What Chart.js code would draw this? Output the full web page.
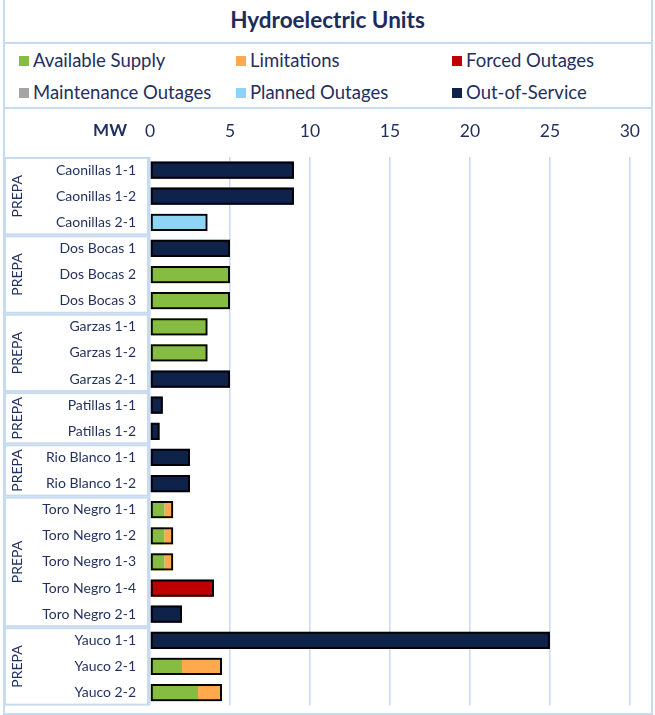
<!DOCTYPE html>
<html>
<head>
<meta charset="utf-8">
<script src="https://cdn.jsdelivr.net/npm/chart.js@4.4.1/dist/chart.umd.min.js"></script>
<style>
  body { margin: 0; background: #fff; font-family: Lato, "Open Sans", sans-serif; color: #1f2f5e; }
  #wrap { position: relative; width: 655px; height: 715px; overflow: hidden; }
  #frame { position: absolute; left: 3px; top: -2px; width: 646px; height: 713px; border: 2px solid #c8daf0; }
  .hline { position: absolute; left: 3px; width: 650px; height: 2px; background: #c8daf0; }
  #title { position: absolute; left: 0; top: 0; width: 655px; height: 40px; line-height: 40px;
           text-align: center; font-weight: bold; font-size: 22.5px; color: #1c2c5b; }
  .leg { position: absolute; font-size: 18.5px; line-height: 20px; white-space: nowrap; }
  .leg i { display: inline-block; width: 10px; height: 10px; margin-right: 4px; vertical-align: 1px; }
  #box { position: absolute; left: 0; top: 108px; width: 655px; height: 620px; }
</style>
</head>
<body>
<div id="wrap">
  <div id="frame"></div>
  <div id="title">Hydroelectric Units</div>
  <div class="hline" style="top:42px"></div>
  <div id="legend"></div>
  <div class="hline" style="top:107px"></div>
  <div id="box"><canvas id="hydroChart" width="655" height="620"></canvas></div>
</div>
<script>
var units = ["Caonillas 1-1", "Caonillas 1-2", "Caonillas 2-1",
  "Dos Bocas 1", "Dos Bocas 2", "Dos Bocas 3",
  "Garzas 1-1", "Garzas 1-2", "Garzas 2-1",
  "Patillas 1-1", "Patillas 1-2",
  "Rio Blanco 1-1", "Rio Blanco 1-2",
  "Toro Negro 1-1", "Toro Negro 1-2", "Toro Negro 1-3", "Toro Negro 1-4", "Toro Negro 2-1",
  "Yauco 1-1", "Yauco 2-1", "Yauco 2-2"];

var groupNames = ["PREPA", "PREPA", "PREPA", "PREPA", "PREPA", "PREPA", "PREPA"];
var groupSizes = [3, 3, 3, 2, 2, 5, 3];

var available    = [0, 0, 0,   0, 5, 5,   3.6, 3.6, 0,   0, 0,     0, 0,     0.9, 0.9, 0.9, 0, 0,   0, 2, 3];
var limitations  = [0, 0, 0,   0, 0, 0,   0, 0, 0,       0, 0,     0, 0,     0.55, 0.55, 0.55, 0, 0, 0, 2.5, 1.5];
var forced       = [0, 0, 0,   0, 0, 0,   0, 0, 0,       0, 0,     0, 0,     0, 0, 0, 4, 0,     0, 0, 0];
var maintenance  = [0, 0, 0,   0, 0, 0,   0, 0, 0,       0, 0,     0, 0,     0, 0, 0, 0, 0,     0, 0, 0];
var planned      = [0, 0, 3.6, 0, 0, 0,   0, 0, 0,       0, 0,     0, 0,     0, 0, 0, 0, 0,     0, 0, 0];
var outOfService = [9, 9, 0,   5, 0, 0,   0, 0, 5,       0.8, 0.6, 2.5, 2.5, 0, 0, 0, 0, 2,     25, 0, 0];

var xTicks = [0, 5, 10, 15, 20, 25, 30];

var seriesNames = ["Available Supply", "Limitations", "Forced Outages",
  "Maintenance Outages", "Planned Outages", "Out-of-Service"];
var seriesColors = ["#86bc42", "#ffa94f", "#c00000", "#a5a5a5", "#8fd3f5", "#0f2249"];
var seriesData = [available, limitations, forced, maintenance, planned, outOfService];

var textColor = "#1f2f5e";
var lineBlue = "#c8daf0";

// legend, 3 columns x 2 rows
var legendCols = [19, 236, 452];
var legendRows = [50, 82];
var legendEl = document.getElementById("legend");
seriesNames.forEach(function (name, i) {
  var d = document.createElement("div");
  d.className = "leg";
  d.style.left = legendCols[i % 3] + "px";
  d.style.top = legendRows[Math.floor(i / 3)] + "px";
  d.innerHTML = '<i style="background:' + seriesColors[i] + '"></i>' + name;
  legendEl.appendChild(d);
});

var totals = units.map(function (u, i) {
  return seriesData.reduce(function (s, arr) { return s + arr[i]; }, 0);
});

var datasets = seriesData.map(function (arr, i) {
  return {
    label: seriesNames[i],
    data: arr,
    backgroundColor: seriesColors[i],
    borderWidth: 0,
    stack: "mw",
    order: 1,
    barPercentage: 0.66,
    categoryPercentage: 1
  };
});
// black outline around each whole bar
datasets.push({
  label: "outline",
  data: totals,
  backgroundColor: "rgba(0,0,0,0)",
  borderColor: "#000",
  borderWidth: 2,
  borderSkipped: false,
  stack: "outline",
  grouped: false,
  order: 0,
  barPercentage: 0.66,
  categoryPercentage: 1
});

var groupPlugin = {
  id: "groups",
  afterDraw: function (chart) {
    var ctx = chart.ctx;
    var y = chart.scales.y;
    var half = (y.getPixelForValue(1) - y.getPixelForValue(0)) / 2;
    var start = 0;
    ctx.save();
    ctx.strokeStyle = lineBlue;
    ctx.lineWidth = 2;
    groupSizes.forEach(function (n, g) {
      var top = y.getPixelForValue(start) - half;
      var bottom = y.getPixelForValue(start + n - 1) + half;
      ctx.strokeRect(5, top + 1, 143, bottom - top - 2);
      ctx.save();
      ctx.translate(17, (top + bottom) / 2);
      ctx.rotate(-Math.PI / 2);
      ctx.fillStyle = textColor;
      ctx.font = "14px Lato";
      ctx.textAlign = "center";
      ctx.textBaseline = "middle";
      ctx.fillText(groupNames[g], 0, 0);
      ctx.restore();
      start += n;
    });
    // axis unit label
    ctx.fillStyle = textColor;
    ctx.font = "bold 17px Lato";
    ctx.textAlign = "right";
    ctx.textBaseline = "middle";
    ctx.fillText("MW", 127, 23);
    ctx.restore();
  }
};

var ctx = document.getElementById("hydroChart").getContext("2d");
var hydroChart = new Chart(ctx, {
  type: "bar",
  data: { labels: units, datasets: datasets },
  options: {
    indexAxis: "y",
    responsive: false,
    animation: false,
    layout: { padding: { left: 0, right: 25, top: 0, bottom: 10 } },
    plugins: { legend: { display: false }, tooltip: { enabled: false } },
    scales: {
      x: {
        position: "top",
        stacked: true,
        min: 0,
        max: 30,
        afterBuildTicks: function (s) { s.ticks = xTicks.map(function (v) { return { value: v }; }); },
        afterFit: function (s) { s.height = 49; },
        ticks: { color: textColor, font: { family: "Lato", size: 17.5 }, padding: 15 },
        grid: { color: lineBlue, lineWidth: 1.5, drawTicks: false },
        border: { display: false }
      },
      y: {
        stacked: true,
        afterFit: function (s) { s.width = 150; },
        ticks: { color: textColor, font: { family: "Lato", size: 14 }, padding: 14 },
        grid: { display: false, drawTicks: false },
        border: { display: false }
      }
    }
  },
  plugins: [groupPlugin]
});
</script>
</body>
</html>
